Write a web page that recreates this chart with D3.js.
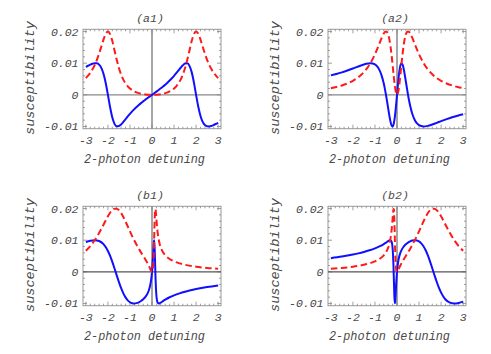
<!DOCTYPE html>
<html>
<head>
<meta charset="utf-8">
<script src="https://cdn.jsdelivr.net/npm/d3@7"></script>
<style>
  body { margin: 0; background: #fff; }
  text { font-family: "Liberation Mono", "DejaVu Sans Mono", monospace; font-style: italic; fill: #4a4a4a; }
</style>
</head>
<body>
<svg id="chart" width="491" height="354"></svg>
<script>
// panel (a1)
const a1X = [-3, -2.9, -2.8, -2.7, -2.6, -2.5, -2.4, -2.3, -2.2, -2.1, -2, -1.9, -1.8, -1.7, -1.6, -1.5, -1.4, -1.3, -1.2, -1.1,
  -1, -0.9, -0.8, -0.7, -0.6, -0.5, -0.4, -0.3, -0.2, -0.1, 0, 0.1, 0.2, 0.3, 0.4, 0.5, 0.6, 0.7, 0.8, 0.9,
  1, 1.1, 1.2, 1.3, 1.4, 1.5, 1.6, 1.7, 1.8, 1.9, 2, 2.1, 2.2, 2.3, 2.4, 2.5, 2.6, 2.7, 2.8, 2.9, 3];
const a1Abs = [0.00529, 0.00604, 0.00694, 0.00805, 0.00940, 0.01105, 0.01301, 0.01521, 0.01746, 0.01927, 0.02000,
  0.01919, 0.01697, 0.01402, 0.01105, 0.00847, 0.00640, 0.00481, 0.00360, 0.00269, 0.00200, 0.00148, 0.00107,
  0.00077, 0.00053, 0.00035, 0.00022, 0.00012, 0.00005, 0.00001, 0, 0.00001, 0.00005, 0.00012, 0.00022, 0.00035,
  0.00053, 0.00077, 0.00107, 0.00148, 0.00200, 0.00269, 0.00360, 0.00481, 0.00640, 0.00847, 0.01105, 0.01402,
  0.01697, 0.01919, 0.02000, 0.01927, 0.01746, 0.01521, 0.01301, 0.01105, 0.00940, 0.00805, 0.00694, 0.00604, 0.00529];
const a1Disp = [0.00882, 0.00918, 0.00952, 0.00981, 0.00998, 0.00994, 0.00954, 0.00853, 0.00666, 0.00376, 0,
  -0.00394, -0.00717, -0.00916, -0.00994, -0.00988, -0.00933, -0.00855, -0.00769, -0.00683, -0.00600, -0.00523,
  -0.00451, -0.00384, -0.00321, -0.00262, -0.00206, -0.00153, -0.00101, -0.00050, 0, 0.00050, 0.00101, 0.00153,
  0.00206, 0.00262, 0.00321, 0.00384, 0.00451, 0.00523, 0.00600, 0.00683, 0.00769, 0.00855, 0.00933, 0.00988,
  0.00994, 0.00916, 0.00717, 0.00394, 0, -0.00376, -0.00666, -0.00853, -0.00954, -0.00994, -0.00998, -0.00981,
  -0.00952, -0.00918, -0.00882];

// panel (a2)
const a2X = [-3, -2.75, -2.5, -2.25, -2, -1.8, -1.6, -1.4, -1.2, -1, -0.9, -0.8, -0.7, -0.6, -0.55, -0.5, -0.45,
  -0.4, -0.35, -0.3, -0.25, -0.2, -0.15, -0.1, -0.05, 0, 0.05, 0.1, 0.15, 0.2, 0.25, 0.3, 0.35, 0.4, 0.45, 0.5,
  0.55, 0.6, 0.7, 0.8, 0.9, 1, 1.2, 1.4, 1.6, 1.8, 2, 2.25, 2.5, 2.75, 3];
const a2Abs = [0.00210, 0.00248, 0.00296, 0.00359, 0.00443, 0.00532, 0.00648, 0.00803, 0.01008, 0.01280, 0.01442,
  0.01616, 0.01790, 0.01935, 0.01982, 0.02000, 0.01978, 0.01904, 0.01766, 0.01557, 0.01280, 0.00951, 0.00606,
  0.00296, 0.00078, 0, 0.00078, 0.00296, 0.00606, 0.00951, 0.01280, 0.01557, 0.01766, 0.01904, 0.01978, 0.02000,
  0.01982, 0.01935, 0.01790, 0.01616, 0.01442, 0.01280, 0.01008, 0.00803, 0.00648, 0.00532, 0.00443, 0.00359,
  0.00296, 0.00248, 0.00210];
const a2Disp = [0.00614, 0.00659, 0.00710, 0.00767, 0.00830, 0.00884, 0.00936, 0.00980, 0.01000, 0.00960, 0.00897,
  0.00788, 0.00614, 0.00355, 0.00189, 0, -0.00209, -0.00428, -0.00643, -0.00830, -0.00960, -0.00999, -0.00919,
  -0.00710, -0.00388, 0, 0.00388, 0.00710, 0.00919, 0.00999, 0.00960, 0.00830, 0.00643, 0.00428, 0.00209, 0,
  -0.00189, -0.00355, -0.00614, -0.00788, -0.00897, -0.00960, -0.01000, -0.00980, -0.00936, -0.00884, -0.00830,
  -0.00767, -0.00710, -0.00659, -0.00614];

// panel (b1)
const b1X = [-3, -2.8, -2.6, -2.4, -2.2, -2, -1.9, -1.8, -1.7, -1.6, -1.5, -1.4, -1.3, -1.2, -1.1, -1, -0.9, -0.8,
  -0.7, -0.6, -0.5, -0.4, -0.3, -0.2, -0.15, -0.1, -0.05, -0.02, 0, 0.02, 0.04, 0.06, 0.08, 0.1, 0.12, 0.14, 0.16,
  0.18, 0.2, 0.25, 0.3, 0.35, 0.4, 0.5, 0.6, 0.8, 1, 1.25, 1.5, 1.75, 2, 2.5, 3];
const b1Abs = [0.00665, 0.00811, 0.00996, 0.01224, 0.01488, 0.01753, 0.01866, 0.01949, 0.01994, 0.01994, 0.01946,
  0.01856, 0.01733, 0.01589, 0.01435, 0.01280, 0.01130, 0.00988, 0.00855, 0.00732, 0.00615, 0.00503, 0.00390,
  0.00267, 0.00198, 0.00123, 0.00047, 0.00010, 0, 0.00016, 0.00086, 0.00257, 0.00590, 0.01105, 0.01646, 0.01958,
  0.01981, 0.01844, 0.01663, 0.01280, 0.01034, 0.00873, 0.00762, 0.00615, 0.00522, 0.00404, 0.00330, 0.00267,
  0.00222, 0.00188, 0.00161, 0.00123, 0.00098];
const b1Disp = [0.00942, 0.00982, 0.01000, 0.00974, 0.00873, 0.00658, 0.00501, 0.00314, 0.00106, -0.00112, -0.00324,
  -0.00517, -0.00680, -0.00808, -0.00900, -0.00960, -0.00992, -0.01000, -0.00989, -0.00963, -0.00923, -0.00868,
  -0.00792, -0.00680, -0.00597, -0.00481, -0.00303, -0.00142, 0, 0.00181, 0.00406, 0.00669, 0.00912, 0.00994,
  0.00763, 0.00285, -0.00193, -0.00537, -0.00748, -0.00960, -0.00999, -0.00992, -0.00971, -0.00923, -0.00878,
  -0.00803, -0.00742, -0.00680, -0.00628, -0.00583, -0.00545, -0.00481, -0.00431];

// panel (b2)
const b2X = [-3, -2.5, -2, -1.75, -1.5, -1.25, -1, -0.8, -0.6, -0.5, -0.4, -0.35, -0.3, -0.25, -0.2, -0.18, -0.16,
  -0.14, -0.12, -0.1, -0.08, -0.06, -0.04, -0.02, 0, 0.02, 0.05, 0.1, 0.15, 0.2, 0.3, 0.4, 0.5, 0.6, 0.7, 0.8, 0.9,
  1, 1.1, 1.2, 1.3, 1.4, 1.5, 1.6, 1.7, 1.8, 1.9, 2, 2.2, 2.4, 2.6, 2.8, 3];
const b2Abs = [0.00098, 0.00123, 0.00161, 0.00188, 0.00222, 0.00267, 0.00330, 0.00404, 0.00522, 0.00615, 0.00762,
  0.00873, 0.01034, 0.01280, 0.01663, 0.01844, 0.01981, 0.01958, 0.01646, 0.01105, 0.00590, 0.00257, 0.00086,
  0.00016, 0, 0.00010, 0.00047, 0.00123, 0.00198, 0.00267, 0.00390, 0.00503, 0.00615, 0.00732, 0.00855, 0.00988,
  0.01130, 0.01280, 0.01435, 0.01589, 0.01733, 0.01856, 0.01946, 0.01994, 0.01994, 0.01949, 0.01866, 0.01753,
  0.01488, 0.01224, 0.00996, 0.00811, 0.00665];
const b2Disp = [0.00431, 0.00481, 0.00545, 0.00583, 0.00628, 0.00680, 0.00742, 0.00803, 0.00878, 0.00923, 0.00971,
  0.00992, 0.00999, 0.00960, 0.00748, 0.00537, 0.00193, -0.00285, -0.00763, -0.00994, -0.00912, -0.00669, -0.00406,
  -0.00181, 0, 0.00142, 0.00303, 0.00481, 0.00597, 0.00680, 0.00792, 0.00868, 0.00923, 0.00963, 0.00989, 0.01000,
  0.00992, 0.00960, 0.00900, 0.00808, 0.00680, 0.00517, 0.00324, 0.00112, -0.00106, -0.00314, -0.00501, -0.00658,
  -0.00873, -0.00974, -0.01000, -0.00982, -0.00942];

const xTicks = [-3, -2, -1, 0, 1, 2, 3];
const yTicks = [-0.01, 0, 0.01, 0.02];
const yTickLabels = ["-0.01", "0", "0.01", "0.02"];
const xLabel = "2-photon detuning";
const yLabel = "susceptibility";

const panels = [
  { title: "(a1)", x: a1X, abs: a1Abs, disp: a1Disp, ox: 0, oy: 0 },
  { title: "(a2)", x: a2X, abs: a2Abs, disp: a2Disp, ox: 245, oy: 0 },
  { title: "(b1)", x: b1X, abs: b1Abs, disp: b1Disp, ox: 0, oy: 177 },
  { title: "(b2)", x: b2X, abs: b2Abs, disp: b2Disp, ox: 245, oy: 177 }
];

function drawPanel(svg, p) {
  const g = svg.append("g").attr("transform", `translate(${p.ox},${p.oy})`);

  const x = d3.scaleLinear().domain([-3.13, 3.13]).range([83, 221]);
  const y = d3.scaleLinear().domain([-0.0107, 0.0207]).range([128.7, 29.3]);

  // frame
  g.append("rect")
    .attr("x", 83).attr("y", 29.3)
    .attr("width", 138).attr("height", 99.4)
    .attr("fill", "none")
    .attr("stroke", "#999")
    .attr("stroke-width", 1);

  // frame ticks, all four sides, pointing in
  const minorX = d3.range(-3, 3.01, 0.2);
  const minorY = d3.range(-0.01, 0.0201, 0.002);
  const ticks = g.append("g").attr("stroke", "#888").attr("stroke-width", 0.8);
  minorX.forEach(v => {
    const major = Math.abs(v - Math.round(v)) < 1e-6;
    const len = major ? 4 : 2;
    ticks.append("line").attr("x1", x(v)).attr("x2", x(v)).attr("y1", 128.7).attr("y2", 128.7 - len);
    ticks.append("line").attr("x1", x(v)).attr("x2", x(v)).attr("y1", 29.3).attr("y2", 29.3 + len);
  });
  minorY.forEach(v => {
    const major = Math.abs(v * 100 - Math.round(v * 100)) < 1e-6;
    const len = major ? 4 : 2;
    ticks.append("line").attr("x1", 83).attr("x2", 83 + len).attr("y1", y(v)).attr("y2", y(v));
    ticks.append("line").attr("x1", 221).attr("x2", 221 - len).attr("y1", y(v)).attr("y2", y(v));
  });

  // axes through the origin
  g.append("line")
    .attr("x1", 83).attr("x2", 221).attr("y1", y(0)).attr("y2", y(0))
    .attr("stroke", p.oy > 0 ? "#555" : "#888").attr("stroke-width", 1.3);
  g.append("line")
    .attr("x1", x(0)).attr("x2", x(0)).attr("y1", 29.3).attr("y2", 128.7)
    .attr("stroke", "#888").attr("stroke-width", 1.5);

  const pts = (vals) => p.x.map((d, i) => [d, vals[i]]);
  const line = d3.line()
    .x(d => x(d[0]))
    .y(d => y(d[1]))
    .curve(d3.curveMonotoneX);

  g.append("path")
    .attr("d", line(pts(p.disp)))
    .attr("fill", "none")
    .attr("stroke", "#1010ff")
    .attr("stroke-width", 2);

  g.append("path")
    .attr("d", line(pts(p.abs)))
    .attr("fill", "none")
    .attr("stroke", "#ff1a1a")
    .attr("stroke-width", 2)
    .attr("stroke-dasharray", "6.5,3.5");

  // tick labels
  g.selectAll("text.xt")
    .data(xTicks)
    .join("text")
    .attr("class", "xt")
    .attr("x", d => x(d))
    .attr("y", 143.5)
    .attr("text-anchor", "middle")
    .style("font-size", "11.5px")
    .text(d => d);

  g.selectAll("text.yt")
    .data(yTicks)
    .join("text")
    .attr("class", "yt")
    .attr("x", 78.5)
    .attr("y", d => y(d) + 4)
    .attr("text-anchor", "end")
    .style("font-size", "11.5px")
    .text((d, i) => yTickLabels[i]);

  g.append("text")
    .attr("x", 150).attr("y", 21.5)
    .attr("text-anchor", "middle")
    .style("font-size", "11.5px")
    .text(p.title);

  g.append("text")
    .attr("x", 144.5).attr("y", 163)
    .attr("text-anchor", "middle")
    .attr("textLength", 121)
    .attr("lengthAdjust", "spacingAndGlyphs")
    .style("font-size", "12.5px")
    .text(xLabel);

  g.append("text")
    .attr("transform", "translate(33.5,78) rotate(-90)")
    .attr("text-anchor", "middle")
    .attr("textLength", 114)
    .attr("lengthAdjust", "spacingAndGlyphs")
    .style("font-size", "12.5px")
    .text(yLabel);
}

const svg = d3.select("#chart");
panels.forEach(p => drawPanel(svg, p));
</script>
</body>
</html>
